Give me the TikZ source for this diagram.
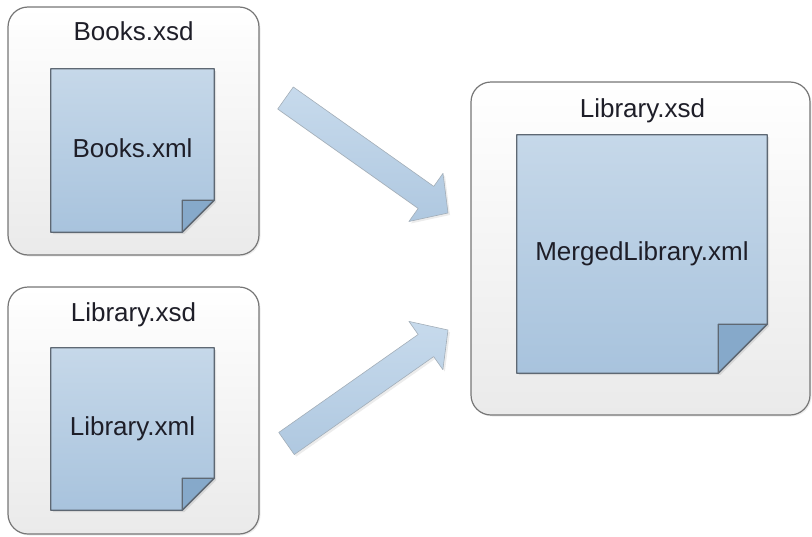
\documentclass[tikz,border=0pt]{standalone}
\usepackage{fontspec}
\setmainfont{Liberation Sans}
\usetikzlibrary{positioning,calc,shadows}
\definecolor{frame}{HTML}{767676}
\definecolor{boxtop}{HTML}{FFFFFF}
\definecolor{boxbot}{HTML}{EAEAEA}
\definecolor{paperline}{HTML}{5E6873}
\definecolor{papertop}{HTML}{C6D8E9}
\definecolor{paperbot}{HTML}{A8C3DD}
\definecolor{foldblue}{HTML}{86A9CA}
\definecolor{arrowtop}{HTML}{C7DAEC}
\definecolor{arrowbot}{HTML}{AFC8E0}
\definecolor{arrowline}{HTML}{A3AEB8}
\definecolor{ink}{HTML}{1E1E28}

\pgfdeclarelayer{back}
\pgfdeclarelayer{paper}
\pgfsetlayers{back,paper,main}

\begin{document}
\begin{tikzpicture}[
    x=1pt, y=-1pt,
    xsdbox/.style={draw=frame, line width=1.2pt, rounded corners=20pt, top color=boxtop, bottom color=boxbot,
        drop shadow={shadow xshift=1.5pt, shadow yshift=-1.5pt, opacity=0.15}},
    title/.style={font=\fontsize{26}{29}\selectfont, text=ink, inner sep=0pt, text height=18pt, text depth=5pt},
    docnode/.style={inner sep=0pt, font=\fontsize{26}{29}\selectfont, text=ink, text height=18pt, text depth=5pt},
    paper/.style={draw=paperline, line width=1.3pt, line join=round, top color=papertop, bottom color=paperbot,
        drop shadow={shadow xshift=2pt, shadow yshift=-2pt, opacity=0.2}},
    foldcorner/.style={draw=paperline, line width=1.3pt, line join=round, fill=foldblue},
    blockarrow/.style={draw=arrowline, line width=0.6pt, line join=round, top color=arrowtop, bottom color=arrowbot,
        drop shadow={shadow xshift=2pt, shadow yshift=-2pt, opacity=0.15}}
]
    \useasboundingbox (0,0) rectangle (812,536);

    % Schema frames
    \begin{pgfonlayer}{back}
    \node[xsdbox, minimum width=251pt, minimum height=248pt] (booksxsd) at (133.5,131) {};
    \node[xsdbox, minimum width=251pt, minimum height=247pt] (libraryxsd) at (133.5,410.5) {};
    \node[xsdbox, minimum width=339pt, minimum height=333pt] (mergedxsd) at (640.5,248.5) {};
    \end{pgfonlayer}

    \node[title, below=16pt of booksxsd.north] (bookstitle) {Books.xsd};
    \node[title, below=17pt of libraryxsd.north] (librarytitle) {Library.xsd};
    \node[title, below=18pt of mergedxsd.north, xshift=2pt] (mergedtitle) {Library.xsd};

    % XML documents
    \node[docnode, minimum width=163pt, minimum height=163pt] (booksxml) at (132.5,150.5) {Books.xml};
    \node[docnode, minimum width=163pt, minimum height=162pt] (libraryxml) at (132.5,429) {Library.xml};
    \node[docnode, minimum width=250pt, minimum height=238pt] (mergedxml) at (642,254) {MergedLibrary.xml};

    \begin{pgfonlayer}{paper}
    \foreach \d/\f in {booksxml/32, libraryxml/32, mergedxml/49} {
        \filldraw[paper] (\d.north west) -- (\d.north east) -- ($(\d.south east)+(0,-\f)$)
            -- ($(\d.south east)+(-\f,0)$) -- (\d.south west) -- cycle;
        \filldraw[foldcorner] ($(\d.south east)+(0,-\f)$) -- ($(\d.south east)+(-\f,-\f)$)
            -- ($(\d.south east)+(-\f,0)$) -- cycle;
    }
    \end{pgfonlayer}

    % Merge arrows
    \coordinate (tail1) at (285.5,98);
    \coordinate (tip1) at (448,213);
    \coordinate (tail2) at (286.5,443.5);
    \coordinate (tip2) at (448,330);
    \foreach \s/\t in {tail1/tip1, tail2/tip2} {
        \coordinate (hb) at ($(\t)!27pt!(\s)$);
        \draw[blockarrow] ($(\s)!13.5pt!90:(\t)$) -- ($(hb)!13.5pt!90:(\t)$) -- ($(hb)!29.5pt!90:(\t)$)
            -- (\t) -- ($(hb)!29.5pt!-90:(\t)$) -- ($(hb)!13.5pt!-90:(\t)$) -- ($(\s)!13.5pt!-90:(\t)$) -- cycle;
    }
\end{tikzpicture}
\end{document}
